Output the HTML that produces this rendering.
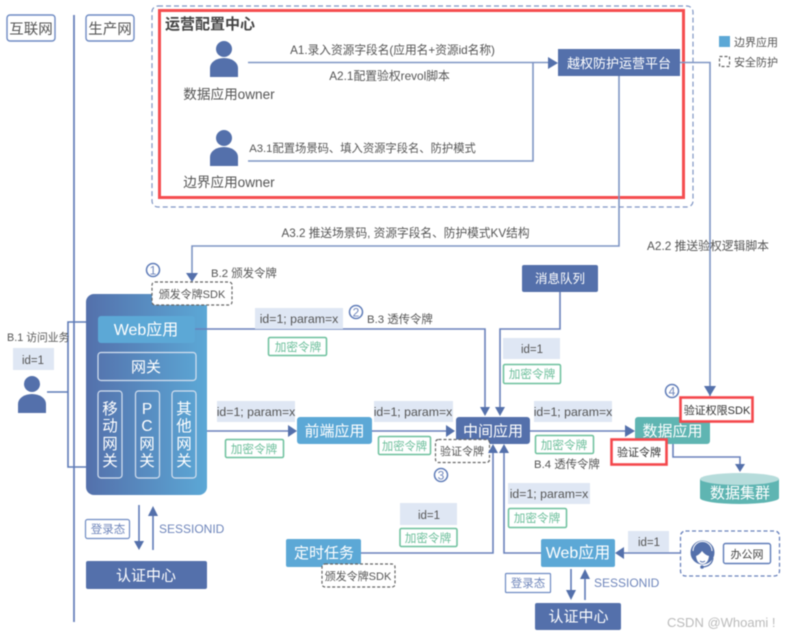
<!DOCTYPE html>
<html><head><meta charset="utf-8">
<style>
html,body{margin:0;padding:0;background:#fff;width:792px;height:636px;overflow:hidden}
svg{display:block;filter:blur(.5px)}
text{font-family:"Liberation Sans","Noto Sans CJK SC",sans-serif;fill:#555}
.w{fill:#fff}.g{fill:#6cbf9b}.b{fill:#6f86bb}.k{fill:#333}
.c{text-anchor:middle}
.l{fill:none;stroke:#7f95c4;stroke-width:1.6}
.a{fill:#5470ab}
.id{fill:#dfe7f4}
.en{fill:#fff;stroke:#6cc09c;stroke-width:1.5}
.ds{fill:#fff;stroke:#666;stroke-width:1.2;stroke-dasharray:3 2}
.gb{fill:none;stroke:#d5e0ef;stroke-width:1.2}
.rd{fill:none;stroke:#f4474c;stroke-width:2.6}
.n{fill:#fff;stroke:#5f7cb8;stroke-width:1.5}
</style></head><body>
<svg width="792" height="636" viewBox="0 0 792 636" xmlns="http://www.w3.org/2000/svg">
<defs><linearGradient id="gr" x1="0" x2="1" y1="0" y2="0"><stop offset="0" stop-color="#5470ab"/><stop offset="1" stop-color="#5ca8d6"/></linearGradient></defs>

<!-- zones -->
<rect x="7" y="15" width="48" height="26" rx="3" fill="#fff" stroke="#6f8bc3" stroke-width="1.4"/>
<text x="31" y="34" font-size="14.500" class="c">互联网</text>
<rect x="86" y="15" width="48" height="26" rx="3" fill="#fff" stroke="#6f8bc3" stroke-width="1.4"/>
<text x="110" y="34" font-size="14.500" class="c">生产网</text>
<path d="M74 15V622" stroke="#6a82bc" stroke-width="1.8" fill="none"/>

<rect x="152" y="6" width="541" height="201" rx="6" fill="none" stroke="#7f95c4" stroke-width="1.2" stroke-dasharray="5 3"/>
<rect x="159.500" y="10.500" width="524" height="187" fill="none" stroke="#f54e50" stroke-width="3"/>
<text x="165" y="29" font-size="15" font-weight="bold" style="fill:#444">运营配置中心</text>

<!-- persons -->
<g class="a"><circle cx="224" cy="49" r="8"/><path d="M210 77V68a14 10 0 0 1 28 0V77Z"/>
<circle cx="224" cy="138" r="8"/><path d="M210 166V157a14 10 0 0 1 28 0V166Z"/>
<circle cx="32" cy="384" r="8"/><path d="M18 413V404a14 10 0 0 1 28 0V413Z"/></g>
<text x="229" y="99" font-size="13.600" class="c">数据应用owner</text>
<text x="229" y="187" font-size="13.600" class="c">边界应用owner</text>

<path class="l" d="M248 62.500H549M248 161H533V63"/>
<path class="a" d="M548 57L558 63L548 69Z"/>
<text x="392.500" y="54" font-size="11.700" class="c">A1.录入资源字段名(应用名+资源id名称)</text>
<text x="389.500" y="80" font-size="11.800" class="c">A2.1配置验权revol脚本</text>
<text x="362.500" y="152" font-size="11.300" class="c">A3.1配置场景码、填入资源字段名、防护模式</text>

<rect x="558" y="49" width="122" height="27" fill="#5470ab"/>
<text x="619" y="68" font-size="13" class="w c">越权防护运营平台</text>

<!-- legend -->
<rect x="719" y="36" width="11" height="11" fill="#5ca8d6"/>
<text x="734" y="46" font-size="11">边界应用</text>
<rect x="719.500" y="56.500" width="10" height="10" class="ds"/>
<text x="734" y="66" font-size="11">安全防护</text>

<!-- platform lines -->
<path class="l" d="M680 62.500H710V396M619 76V246H192V274"/>
<path class="a" d="M704 386H716L710 396Z"/>
<path class="a" d="M186 273H198L192 282Z"/>
<text x="405.500" y="237" font-size="11.700" class="c">A3.2 推送场景码, 资源字段名、防护模式KV结构</text>
<text x="708" y="250" font-size="11.800" class="c">A2.2 推送验权逻辑脚本</text>

<!-- Left card -->
<path class="l" style="stroke:#5f7cb8" d="M47 392H68M86 322H68V467H86"/>
<rect x="86" y="294" width="121" height="201" rx="8" fill="url(#gr)"/>
<rect x="152" y="282" width="80" height="23" rx="3" class="ds"/>
<text x="192" y="298" font-size="11" fill="#444" class="c">颁发令牌SDK</text>
<circle cx="153" cy="270" r="6.500" class="n"/>
<text x="153" y="274.500" font-size="12" class="b c">1</text>
<text x="211" y="277" font-size="11.400">B.2 颁发令牌</text>

<rect x="98" y="316" width="97" height="27" rx="3" fill="#5ca8d6"/>
<text x="146" y="335" font-size="16" class="w c">Web应用</text>
<rect x="98" y="352.500" width="98" height="28" rx="3" class="gb"/>
<text x="146" y="372" font-size="15" class="w c">网关</text>
<rect x="98" y="391" width="24" height="87" rx="3" class="gb"/>
<rect x="135.500" y="391" width="24" height="87" rx="3" class="gb"/>
<rect x="172" y="391" width="24" height="87" rx="3" class="gb"/>
<g font-size="15.500">
<text class="w c" x="110" y="414">移</text><text class="w c" x="110" y="431">动</text><text class="w c" x="110" y="449">网</text><text class="w c" x="110" y="466">关</text>
<text class="w c" x="147" y="414">P</text><text class="w c" x="147" y="431">C</text><text class="w c" x="147" y="449">网</text><text class="w c" x="147" y="466">关</text>
<text class="w c" x="184" y="414">其</text><text class="w c" x="184" y="431">他</text><text class="w c" x="184" y="449">网</text><text class="w c" x="184" y="466">关</text>
</g>

<text x="7" y="341" font-size="10.800">B.1 访问业务</text>
<rect x="13" y="348" width="41" height="22" class="id"/>
<text x="33" y="364" font-size="11.500" class="c">id=1</text>

<!-- top flow -->
<path class="l" style="stroke:#6a82bc" d="M195 329H485V408M560 292V329H500V408"/>
<path class="a" d="M480 407H490L485 416ZM495 407H505L500 416Z"/>
<rect x="255" y="308" width="88" height="21" class="id"/>
<text x="299" y="323" font-size="12.300" class="c">id=1; param=x</text>
<rect x="268.500" y="337.500" width="58" height="18" rx="1.500" class="en"/>
<text x="298" y="351" font-size="11.600" class="g c">加密令牌</text>
<circle cx="356" cy="312" r="6.500" class="n"/>
<text x="356" y="316.500" font-size="12" class="b c">2</text>
<text x="367" y="323" font-size="11.400">B.3 透传令牌</text>
<rect x="522" y="265" width="76" height="27" rx="2" fill="#5470ab"/>
<text x="560" y="283" font-size="12.500" class="w c">消息队列</text>
<rect x="503" y="338" width="57" height="21" class="id"/>
<text x="532" y="353" font-size="11.500" class="c">id=1</text>
<rect x="503.500" y="364.500" width="57" height="19" rx="1.500" class="en"/>
<text x="532" y="378" font-size="11.600" class="g c">加密令牌</text>

<!-- main row -->
<path class="l" style="stroke:#6a82bc" d="M207 431H289M372 431H447M530 431H626"/>
<path class="a" d="M288 425L297 431L288 437ZM446 425L455 431L446 437ZM625 425L635 431L625 437Z"/>
<rect x="217" y="401" width="78" height="21" class="id"/>
<text x="256" y="416" font-size="12.300" class="c">id=1; param=x</text>
<rect x="225.500" y="439.500" width="58" height="18" rx="1.500" class="en"/>
<text x="254" y="453" font-size="11.600" class="g c">加密令牌</text>
<rect x="297" y="417" width="75" height="27" rx="3" fill="#5ca8d6"/>
<text x="334.500" y="436" font-size="15" class="w c">前端应用</text>
<rect x="374" y="401" width="79" height="21" class="id"/>
<text x="413" y="416" font-size="12.300" class="c">id=1; param=x</text>
<rect x="378.500" y="436.500" width="52" height="18" rx="1.500" class="en"/>
<text x="404.500" y="450" font-size="11.300" class="g c">加密令牌</text>
<rect x="456" y="417" width="74" height="27" rx="3" fill="#5470ab"/>
<text x="493" y="436" font-size="15" class="w c">中间应用</text>
<rect x="435.500" y="439.500" width="54" height="23" rx="3" class="ds"/>
<text x="462" y="455" font-size="11" fill="#444" class="c">验证令牌</text>
<circle cx="441" cy="475" r="6.500" class="n"/>
<text x="441" y="479.500" font-size="12" class="b c">3</text>
<rect x="534" y="401" width="78" height="21" class="id"/>
<text x="573" y="416" font-size="12.300" class="c">id=1; param=x</text>
<rect x="535.500" y="435.500" width="58" height="18" rx="1.500" class="en"/>
<text x="564" y="449" font-size="11.600" class="g c">加密令牌</text>
<text x="534" y="468" font-size="11.400">B.4 透传令牌</text>
<rect x="635" y="417" width="75" height="27" rx="3" fill="#5fb5b2"/>
<text x="672.500" y="436" font-size="15" class="w c">数据应用</text>
<path class="l" style="stroke:#6a82bc" d="M673 444V457H740V465"/>
<path class="a" d="M735 464H745L740 472Z"/>
<path d="M700 479V498a39.500 6 0 0 0 79 0V479Z" fill="#5fb5b2"/>
<ellipse cx="739.500" cy="479" rx="39.500" ry="6" fill="#b6dcdb"/>
<text x="740" y="498" font-size="15" class="w c">数据集群</text>
<rect x="681" y="397" width="72" height="25" fill="#fff"/>
<rect x="680.500" y="397.500" width="72" height="24" class="rd"/>
<text x="717" y="414" font-size="11" class="k c">验证权限SDK</text>
<rect x="611.500" y="439.500" width="55" height="25" fill="#fff"/>
<rect x="611.500" y="439.500" width="55" height="25" class="rd"/>
<text x="639" y="456" font-size="11" class="k c">验证令牌</text>
<circle cx="672" cy="391" r="6.500" class="n"/>
<text x="672" y="395.500" font-size="12" class="b c">4</text>

<!-- lower flow -->
<path class="l" style="stroke:#6a82bc" d="M361 553H493V452M541 553H504V452"/>
<path class="a" d="M488 453H498L493 444ZM499 453H509L504 444Z"/>
<rect x="286" y="539" width="75" height="28" rx="2" fill="#5ca8d6"/>
<text x="324" y="558" font-size="15" class="w c">定时任务</text>
<rect x="322" y="564" width="73" height="23" rx="3" class="ds"/>
<text x="358" y="580" font-size="11" fill="#444" class="c">颁发令牌SDK</text>
<rect x="400" y="503" width="57" height="22" class="id"/>
<text x="429" y="519" font-size="11.500" class="c">id=1</text>
<rect x="400" y="528.500" width="57" height="18" rx="1.500" class="en"/>
<text x="428" y="542" font-size="11.600" class="g c">加密令牌</text>
<rect x="508" y="483" width="82" height="21" class="id"/>
<text x="549" y="498" font-size="12.300" class="c">id=1; param=x</text>
<rect x="508.500" y="508.500" width="58" height="19" rx="1.500" class="en"/>
<text x="537" y="522" font-size="11.600" class="g c">加密令牌</text>
<rect x="541" y="539" width="74" height="28" rx="2" fill="#5ca8d6"/>
<text x="578" y="558" font-size="16" class="w c">Web应用</text>
<path class="l" style="stroke:#6a82bc" d="M680 553H622"/>
<path class="a" d="M624 547L615 553L624 559Z"/>
<rect x="628" y="531" width="41" height="21" class="id"/>
<text x="649" y="546" font-size="11.500" class="c">id=1</text>
<rect x="680.500" y="531" width="99" height="45" rx="5" fill="none" stroke="#6a82bc" stroke-width="1.3" stroke-dasharray="4 2.500"/>
<!-- headset -->
<circle cx="702.500" cy="552.500" r="12" fill="#5470ab"/>
<path d="M693 551a9.500 9.500 0 0 1 19 0" fill="none" stroke="#fff" stroke-width="1"/>
<path d="M696 556q3-1 6-5q3 4 7 5q-1 8-6.500 8t-6.500-8Z" fill="#fff"/>
<path d="M700 561q2.500 2 5 0" fill="none" stroke="#5470ab" stroke-width="1"/>
<path d="M713 558q-1 8-10 9" fill="none" stroke="#5470ab" stroke-width="1.200"/>
<circle cx="702" cy="567" r="1.800" fill="#5470ab"/>
<rect x="723.500" y="543.500" width="47" height="20" rx="2" fill="#fff" stroke="#5f7cb8" stroke-width="1.4"/>
<text x="747" y="558" font-size="11" class="c" style="fill:#444">办公网</text>

<!-- auth right -->
<path class="l" style="stroke:#5f7cb8" d="M571 569V592M585 577V600"/>
<path class="a" d="M566 590H576L571 600ZM580 579H590L585 569Z"/>
<rect x="505.500" y="573.500" width="45" height="19" rx="1" fill="#fff" stroke="#6f8bc3" stroke-width="1.2"/>
<text x="528" y="587" font-size="11.500" class="b c">登录态</text>
<text x="594" y="587" font-size="12" class="b">SESSIONID</text>
<rect x="535" y="603" width="86" height="27" rx="2" fill="#5470ab"/>
<text x="578.500" y="621.500" font-size="15" class="w c">认证中心</text>
<text x="667" y="627" font-size="13" style="fill:#bbb">CSDN @Whoami !</text>

<!-- auth left -->
<path class="l" style="stroke:#5f7cb8" d="M139 505V542M153 516V550"/>
<path class="a" d="M134 541H144L139 550ZM148 516H158L153 506Z"/>
<rect x="85.500" y="519.500" width="44" height="19" rx="2" fill="#fff" stroke="#6f8bc3" stroke-width="1.2"/>
<text x="108" y="533" font-size="11.500" class="b c">登录态</text>
<text x="159" y="533" font-size="12" class="b">SESSIONID</text>
<rect x="86" y="561" width="121" height="28" rx="2" fill="#5470ab"/>
<text x="146" y="580.500" font-size="15" class="w c">认证中心</text>
</svg>
</body></html>
